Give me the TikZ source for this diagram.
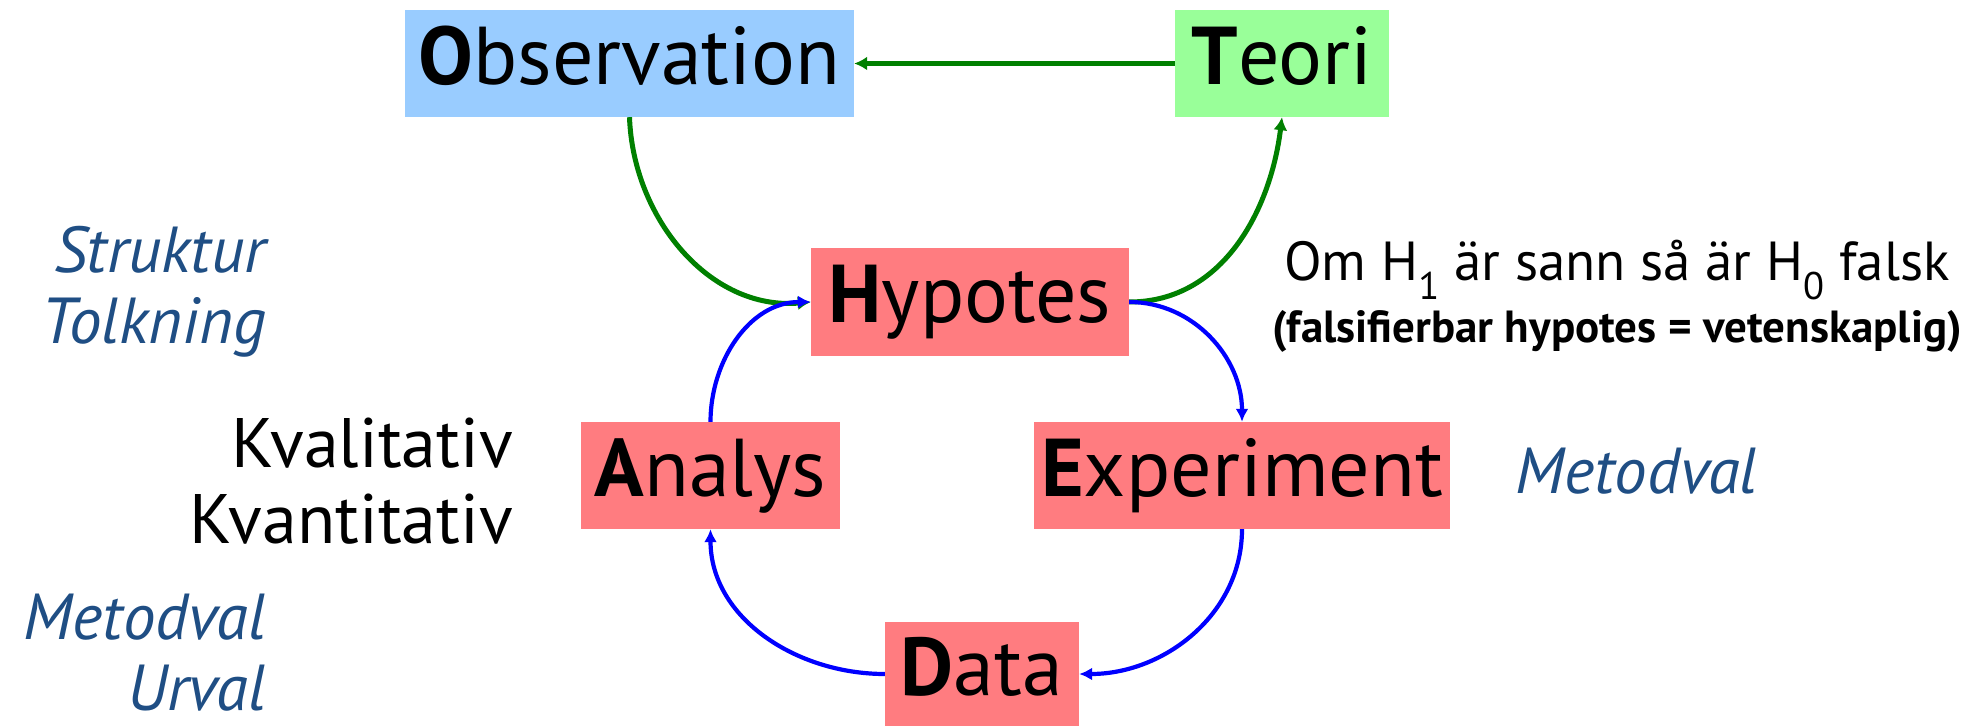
\documentclass[tikz,border=0pt]{standalone}
\usepackage{fontspec}
\setmainfont{PT Sans}
\usetikzlibrary{arrows.meta}
\definecolor{obsblue}{HTML}{99CCFF}
\definecolor{teorigreen}{HTML}{99FF99}
\definecolor{stepred}{HTML}{FF7C80}
\definecolor{labelblue}{HTML}{1F4E84}
\definecolor{linkgreen}{HTML}{008000}

\begin{document}
\begin{tikzpicture}[x=1pt,y=1pt,
    box/.style={inner sep=0pt, font=\fontsize{82}{88}\selectfont, text height=58pt, text depth=16pt, minimum height=107pt},
    side/.style={inner sep=0pt, anchor=east, align=right, font=\fontsize{65}{71}\selectfont\itshape, text=labelblue},
    gline/.style={draw=linkgreen, line width=5pt, -{Latex[length=13pt,width=14pt]}},
    bline/.style={draw=blue, line width=4.2pt, -{Latex[length=13pt,width=13pt]}}]
    \useasboundingbox (0,0) rectangle (1986,-727);

    % the cycle
    \node[box, fill=obsblue, minimum width=449pt] (obs) at (629.5,-63.5) {\textbf{O}bservation};
    \node[box, fill=teorigreen, minimum width=214pt] (teori) at (1282,-63.5) {\textbf{T}eori};
    \node[box, fill=stepred, minimum width=318pt] (hyp) at (970,-302) {\textbf{H}ypotes};
    \node[box, fill=stepred, minimum width=259pt] (analys) at (710.5,-475.5) {\textbf{A}nalys};
    \node[box, fill=stepred, minimum width=416pt] (exp) at (1242,-475.5) {\textbf{E}xperiment};
    \node[box, fill=stepred, minimum width=194pt, minimum height=104pt] (data) at (982,-674) {\textbf{D}ata};

    \draw[gline] (teori.west) -- (obs.east);
    \draw[gline] (obs.south) to[out=-88, in=185] (hyp.west);
    \draw[gline] (hyp.east) to[out=0, in=-97] (teori.south);
    \draw[bline] (hyp.east) to[out=0, in=90] (exp.north);
    \draw[bline] (exp.south) to[out=-90, in=0] (data.east);
    \draw[bline] (data.west) to[out=180, in=-90] (analys.south);
    \draw[bline] (analys.north) to[out=90, in=180] (hyp.west);

    % side notes
    \node[side] (tolk) at (266,-292) {Struktur\\Tolkning};
    \node[side, text=black, font=\fontsize{70}{76}\selectfont] (kval) at (513,-481) {Kvalitativ\\Kvantitativ};
    \node[side] (urval) at (266,-653) {Metodval\\Urval};
    \node[side, anchor=west] (metod) at (1515,-471) {Metodval};
    \node[inner sep=0pt, align=center, font=\fontsize{55}{60}\selectfont] (cond) at (1617,-296)
        {Om H\textsubscript{1} är sann så är H\textsubscript{0} falsk\\[2pt]
         {\fontsize{45}{48}\selectfont\bfseries (falsifierbar hypotes = vetenskaplig)}};
\end{tikzpicture}
\end{document}
